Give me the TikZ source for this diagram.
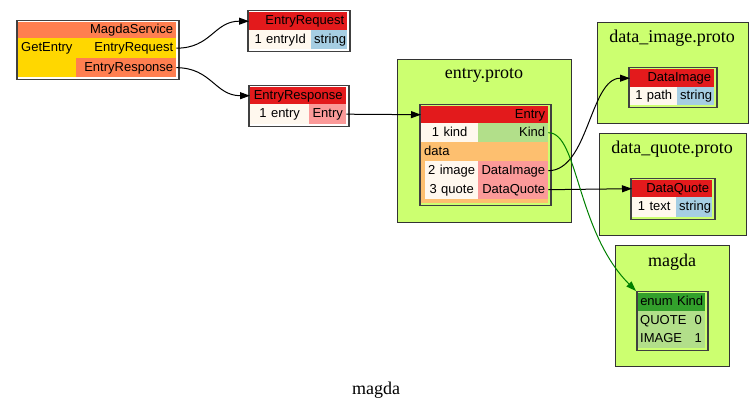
\documentclass[tikz,border=0pt]{standalone}
\usepackage{fontspec}
\setmainfont{Liberation Serif}
\newfontfamily\helv{Liberation Sans}
\usepackage{tikz}
\usetikzlibrary{arrows.meta, positioning}
\definecolor{svccoral}{HTML}{FF7F50}
\definecolor{svcgold}{HTML}{FFD700}
\definecolor{hdred}{HTML}{E31A1C}
\definecolor{cream}{HTML}{FFF8EE}
\definecolor{strblue}{HTML}{A6CEE3}
\definecolor{msgpink}{HTML}{FB9A99}
\definecolor{enumgreen}{HTML}{B2DF8A}
\definecolor{enumdark}{HTML}{33A02C}
\definecolor{oneoforange}{HTML}{FDBF6F}
\definecolor{pkggreen}{HTML}{CCFF70}
\newcommand\tabfont{\helv\fontsize{13}{15}\selectfont}
\tikzset{>={Triangle[length=10pt,width=7pt]}}

\begin{document}
\begin{tikzpicture}[x=1pt,y=-1pt,
    cell/.style={anchor=north west, inner xsep=3pt, inner ysep=0pt, minimum height=#1,
                 font=\tabfont, text height=9.5pt, text depth=2.5pt},
    cell/.default=19pt,
    tabframe/.style={draw=black!75, line width=1.5pt, anchor=north west, inner sep=0pt},
    cluster/.style={draw=black!80, fill=pkggreen, line width=1pt, anchor=north west, inner sep=0pt},
    cltitle/.style={font=\fontsize{18}{20}\selectfont}]
    \useasboundingbox (0,0) rectangle (753,411);

    % service
    \node[tabframe, minimum width=162, minimum height=59] (svc) at (16,20) {};
    \node[cell=16pt, fill=svccoral, text width=152pt, align=right] (svchead) at (18,22) {MagdaService};
    \fill[svcgold] (18,58) rectangle (76,77);
    \node[cell=20pt, fill=svcgold, text width=52pt, align=left] (svcget) at (18,38) {GetEntry};
    \node[cell=20pt, fill=svcgold, text width=94pt, align=right] (svcreq) at (76,38) {EntryRequest};
    \node[cell=19pt, fill=svccoral, text width=94pt, align=right] (svcresp) at (76,58) {EntryResponse};

    % request / response
    \node[tabframe, minimum width=102, minimum height=41] (req) at (247,10) {};
    \node[cell=18pt, fill=hdred, text width=92pt, align=right] (reqhead) at (249,12) {EntryRequest};
    \node[cell=19pt, fill=cream, text width=56pt, align=center] (reqid) at (249,30) {1 entryId};
    \node[cell=19pt, fill=strblue, text width=30pt, align=center] (reqtype) at (311,30) {string};

    \node[tabframe, minimum width=100, minimum height=41] (resp) at (248,85) {};
    \node[cell=17pt, fill=hdred, text width=90pt, align=center] (resphead) at (250,87) {EntryResponse};
    \node[cell=20pt, fill=cream, text width=53pt, align=center] (respentry) at (250,104) {1 entry};
    \node[cell=20pt, fill=msgpink, text width=31pt, align=center] (resptype) at (309,104) {Entry};

    % entry.proto
    \node[cluster, minimum width=174, minimum height=163] (entryproto) at (397,59) {};
    \node[cltitle] (entrytitle) at (484,75) {entry.proto};
    \node[tabframe, minimum width=131, minimum height=101] (entry) at (419,104) {};
    \node[cell=17pt, fill=hdred, text width=121pt, align=right] (entryhead) at (421,106) {Entry};
    \node[cell=19pt, fill=cream, text width=51pt, align=center] (ekindno) at (421,123) {1 kind};
    \node[cell=19pt, fill=enumgreen, text width=64pt, align=right] (ekind) at (478,123) {Kind};
    \node[cell=19pt, fill=oneoforange, text width=121pt, align=left] (edata) at (421,142) {data};
    \fill[oneoforange] (421,161) rectangle (548,203);
    \node[cell=19pt, fill=cream, text width=47pt, align=center] (eimageno) at (425,161) {2 image};
    \node[cell=19pt, fill=msgpink, text width=64pt, align=right] (eimage) at (478,161) {DataImage};
    \node[cell=19pt, fill=cream, text width=47pt, align=center] (equoteno) at (425,180) {3 quote};
    \node[cell=19pt, fill=msgpink, text width=64pt, align=right] (equote) at (478,180) {DataQuote};

    % data_image.proto
    \node[cluster, minimum width=151, minimum height=101] (imgproto) at (597,22) {};
    \node[cltitle] (imgtitle) at (672,38) {data\_image.proto};
    \node[tabframe, minimum width=88, minimum height=40] (dimg) at (628,67) {};
    \node[cell=18pt, fill=hdred, text width=78pt, align=right] (imghead) at (630,69) {DataImage};
    \node[cell=18pt, fill=cream, text width=41pt, align=center] (imgpath) at (630,87) {1 path};
    \node[cell=18pt, fill=strblue, text width=31pt, align=center] (imgtype) at (677,87) {string};

    % data_quote.proto
    \node[cluster, minimum width=147, minimum height=102] (quoteproto) at (599,133) {};
    \node[cltitle] (quotetitle) at (672,149) {data\_quote.proto};
    \node[tabframe, minimum width=84, minimum height=41] (dquote) at (630,178) {};
    \node[cell=17pt, fill=hdred, text width=74pt, align=right] (quotehead) at (632,180) {DataQuote};
    \node[cell=20pt, fill=cream, text width=38pt, align=center] (quotetext) at (632,197) {1 text};
    \node[cell=20pt, fill=strblue, text width=30pt, align=center] (quotetype) at (676,197) {string};

    % magda
    \node[cluster, minimum width=114, minimum height=121] (magdapkg) at (615,245) {};
    \node[cltitle] (magdatitle) at (672,262) {magda};
    \node[tabframe, minimum width=71, minimum height=59] (kind) at (636,291) {};
    \node[cell=18pt, fill=enumdark, inner xsep=0.5pt, text width=66pt, align=center] (kindhead) at (638,293) {enum Kind};
    \node[cell=19pt, fill=enumgreen, inner xsep=2pt, text width=49pt, align=left] (kquote) at (638,311) {QUOTE};
    \node[cell=19pt, fill=enumgreen, inner xsep=2pt, text width=10pt, align=center] (kquoteval) at (691,311) {0};
    \node[cell=18pt, fill=enumgreen, inner xsep=2pt, text width=49pt, align=left] (kimage) at (638,330) {IMAGE};
    \node[cell=18pt, fill=enumgreen, inner xsep=2pt, text width=10pt, align=center] (kimageval) at (691,330) {1};

    \node[cltitle] (graphtitle) at (376,390) {magda};

    % edges
    \draw[->, line width=1pt] (svcreq.east) .. controls +(35,0) and +(-35,0) .. (reqhead.west);
    \draw[->, line width=1pt] (svcresp.east) .. controls +(35,0) and +(-35,0) .. (resphead.west);
    \draw[->, line width=1pt] (resptype.east) -- (entryhead.west);
    \draw[->, line width=1pt] (eimage.east) .. controls +(40,0) and +(-40,0) .. (imghead.west);
    \draw[->, line width=1pt] (equote.east) -- (quotehead.west);
    \draw[->, line width=1pt, green!50!black] (ekind.east) .. controls +(30,0) and +(-60,-60) .. (kind.north west);
\end{tikzpicture}
\end{document}
